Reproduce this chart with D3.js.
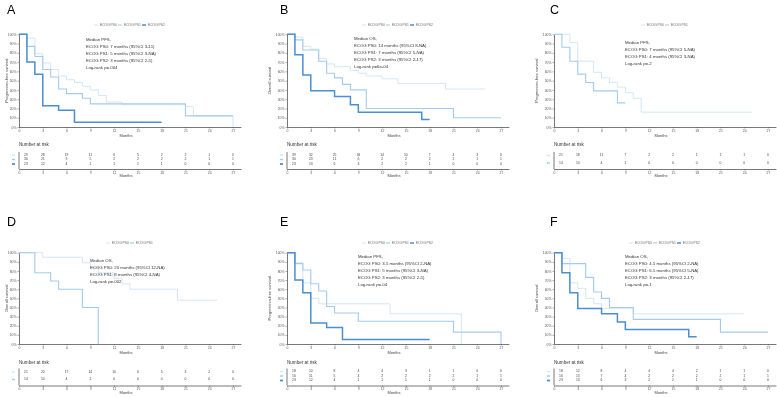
<!DOCTYPE html>
<html>
<head>
<meta charset="utf-8">
<script src="https://cdn.jsdelivr.net/npm/d3@7"></script>
<style>
  body { margin: 0; background: #fff; }
  svg { display: block; font-family: "Liberation Sans", Arial, Helvetica, sans-serif; will-change: transform; }
</style>
</head>
<body>
<svg id="chart" width="777" height="397"></svg>
<script>
var months = [0, 3, 6, 9, 12, 15, 18, 21, 24, 27];
var yTicks = [0, 10, 20, 30, 40, 50, 60, 70, 80, 90, 100];
var groups = ["ECOG PS0", "ECOG PS1", "ECOG PS2"];

// survival curves: [month, percent surviving]
var aPS0 = [[0,100],[1,96],[2,79],[3,69],[4,62],[5,55],[6,51],[7,48],[8,44],[9,40],[10,34],[11,27],[13,24],[21,22],[22,12],[27,0]];
var aPS1 = [[0,100],[1,87],[2,76],[3,62],[4,54],[5,41],[6,36],[8,31],[9,25],[21,12],[27,12]];
var aPS2 = [[0,100],[1,70],[2,57],[3,23],[5,18],[7,5],[18,5]];

var bPS0 = [[0,100],[1,97],[2,87],[3,84],[4,74],[5,68],[6,65],[8,61],[9,58],[10,55],[12,52],[14,47],[20,41],[25,41]];
var bPS1 = [[0,100],[1,94],[2,83],[4,71],[5,58],[6,53],[7,46],[8,40],[10,20],[21,10],[27,10]];
var bPS2 = [[0,100],[1,78],[2,56],[3,39],[6,33],[8,24],[9,16],[17,8],[18,8]];

var cPS0 = [[0,100],[2,91],[3,71],[5,59],[6,53],[7,48],[8,43],[9,37],[10,31],[11,16],[25,16]];
var cPS1 = [[0,100],[1,86],[2,71],[3,57],[4,48],[5,39],[8,26],[9,26]];

var dPS0 = [[0,100],[3,95],[8,89],[9,84],[10,78],[12,72],[13,66],[14,60],[20,48],[25,48]];
var dPS1 = [[0,100],[2,78],[4,69],[5,60],[8,40],[10,0]];

var ePS0 = [[0,100],[1,89],[2,67],[3,50],[4,44],[13,33],[22,0]];
var ePS1 = [[0,100],[1,88],[2,81],[3,66],[4,58],[5,41],[6,34],[9,25],[21,13],[27,0]];
var ePS2 = [[0,100],[1,70],[2,56],[3,23],[5,18],[7,5],[18,5]];

var fPS0 = [[0,100],[1,94],[2,67],[3,61],[4,50],[5,44],[6,39],[10,33],[24,33]];
var fPS1 = [[0,100],[1,88],[4,73],[5,57],[6,50],[7,40],[10,27],[21,13],[27,13]];
var fPS2 = [[0,100],[1,78],[2,56],[3,39],[6,33],[8,24],[9,16],[17,8],[18,8]];

// number at risk
var riskA = [[29,28,19,11,6,5,2,2,1,0],[30,21,9,5,2,2,2,2,1,1],[23,12,4,1,1,1,1,0,0,0]];
var riskB = [[39,32,25,18,14,10,7,4,3,0],[30,23,11,6,2,2,2,2,1,1],[23,13,6,3,2,2,1,0,0,0]];
var riskC = [[21,18,11,7,2,2,1,1,1,0],[14,10,4,1,0,0,0,0,0,0]];
var riskD = [[21,20,17,14,10,6,5,3,2,0],[14,10,4,2,0,0,0,0,0,0]];
var riskE = [[18,10,8,4,4,3,1,1,0,0],[16,11,5,4,2,2,2,2,1,1],[23,12,4,1,1,1,1,0,0,0]];
var riskF = [[18,12,8,4,4,4,2,1,1,0],[16,13,7,4,2,2,2,2,1,1],[23,13,6,3,2,2,1,0,0,0]];

var notesA = ["Median PFS,", "ECOG PS0: 7 months (95%CI 3-11)", "ECOG PS1: 5 months (95%CI 3-NA)", "ECOG PS2: 3 months (95%CI 2-5)", "Log-rank p=.004"];
var notesB = ["Median OS,", "ECOG PS0: 14 months (95%CI 8-NA)", "ECOG PS1: 7 months (95%CI 5-NA)", "ECOG PS2: 3 months (95%CI 2-17)", "Log-rank p=6e-04"];
var notesC = ["Median PFS,", "ECOG PS0: 7 months (95%CI 5-NA)", "ECOG PS1: 4 months (95%CI 3-NA)", "Log-rank p=.2"];
var notesD = ["Median OS,", "ECOG PS0: 20 months (95%CI 12-NA)", "ECOG PS1: 8 months (95%CI 4-NA)", "Log-rank p=.002"];
var notesE = ["Median PFS,", "ECOG PS0: 3.5 months (95%CI 2-NA)", "ECOG PS1: 5 months (95%CI 3-NA)", "ECOG PS2: 3 months (95%CI 2-5)", "Log-rank p=.04"];
var notesF = ["Median OS,", "ECOG PS0: 4.5 months (95%CI 2-NA)", "ECOG PS1: 6.5 months (95%CI 5-NA)", "ECOG PS2: 3 months (95%CI 2-17)", "Log-rank p=.1"];

var colors = ["#d3e6f6", "#a3cbee", "#4a8fd4"];
var widths = [1, 1.1, 1.5];

var cols = [
  {ax: 19, letterX: 7, ytitleX: 7},
  {ax: 287, letterX: 280, ytitleX: 270},
  {ax: 554, letterX: 550, ytitleX: 537}
];
var rows = [
  {top: 34.3, bot: 127, letterY: 13.5, legY: 25, riskAxis: 169, narY: 145},
  {top: 252.7, bot: 344, letterY: 225.5, legY: 243, riskAxis: 385.5, narY: 362.3}
];

var panels = [
  {letter: "A", col: 0, row: 0, curves: [aPS0, aPS1, aPS2], risk: riskA, notes: notesA, ylab: "Progression-free survival", nx: 67, ny: 40},
  {letter: "B", col: 1, row: 0, curves: [bPS0, bPS1, bPS2], risk: riskB, notes: notesB, ylab: "Overall survival", nx: 67, ny: 39.3},
  {letter: "C", col: 2, row: 0, curves: [cPS0, cPS1], risk: riskC, notes: notesC, ylab: "Progression-free survival", nx: 71, ny: 43},
  {letter: "D", col: 0, row: 1, curves: [dPS0, dPS1], risk: riskD, notes: notesD, ylab: "Overall survival", nx: 71, ny: 260.7},
  {letter: "E", col: 1, row: 1, curves: [ePS0, ePS1, ePS2], risk: riskE, notes: notesE, ylab: "Progression-free survival", nx: 71, ny: 257},
  {letter: "F", col: 2, row: 1, curves: [fPS0, fPS1, fPS2], risk: riskF, notes: notesF, ylab: "Overall survival", nx: 71, ny: 257}
];

var svg = d3.select("#chart");
var axisColor = "#555";

function styleAxis(s) {
  s.select(".domain").attr("stroke", axisColor).attr("stroke-width", 0.8);
  s.selectAll(".tick line").attr("stroke", axisColor).attr("stroke-width", 0.5);
  s.selectAll(".tick text").style("font-size", "3.4px").style("fill", "#555");
}

panels.forEach(function(p) {
  var c = cols[p.col], r = rows[p.row];
  var x = d3.scaleLinear().domain([0, 28]).range([c.ax, c.ax + 214 * 28 / 27]);
  var y = d3.scaleLinear().domain([0, 100]).range([r.bot, r.top]);
  var g = svg.append("g");

  // panel letter
  g.append("text")
    .attr("x", c.letterX)
    .attr("y", r.letterY)
    .style("font-size", "12.5px")
    .style("fill", "#000")
    .text(p.letter);

  // legend
  var n = p.curves.length;
  var lx = c.ax + 111 - n * 12;
  groups.slice(0, n).forEach(function(name, i) {
    var ix = lx + i * 24;
    g.append("line")
      .attr("x1", ix).attr("x2", ix + 4)
      .attr("y1", r.legY).attr("y2", r.legY)
      .attr("stroke", colors[i]).attr("stroke-width", widths[i]);
    g.append("text")
      .attr("x", ix + 6).attr("y", r.legY)
      .attr("dominant-baseline", "middle")
      .style("font-size", "3.3px").style("fill", "#666")
      .text(name);
  });

  // axes
  g.append("g")
    .attr("transform", "translate(0," + r.bot + ")")
    .call(d3.axisBottom(x).tickValues(months).tickSize(1.5).tickSizeOuter(0).tickPadding(1.5))
    .call(styleAxis);
  g.append("g")
    .attr("transform", "translate(" + c.ax + ",0)")
    .call(d3.axisLeft(y).tickValues(yTicks).tickFormat(function(d) { return d + "%"; })
      .tickSize(1.5).tickSizeOuter(0).tickPadding(1))
    .call(styleAxis);

  g.append("text")
    .attr("x", (x(0) + x(27)) / 2).attr("y", r.bot + 9.5)
    .attr("text-anchor", "middle")
    .style("font-size", "4px").style("fill", "#444")
    .text("Months");

  g.append("text")
    .attr("transform", "translate(" + c.ytitleX + "," + (r.top + r.bot) / 2 + ") rotate(-90)")
    .attr("text-anchor", "middle")
    .attr("dominant-baseline", "middle")
    .style("font-size", "4px").style("fill", "#444")
    .text(p.ylab);

  // survival curves
  var line = d3.line()
    .x(function(d) { return x(d[0]); })
    .y(function(d) { return y(d[1]); })
    .curve(d3.curveStepAfter);
  p.curves.forEach(function(cv, i) {
    g.append("path")
      .datum(cv)
      .attr("d", line)
      .attr("fill", "none")
      .attr("stroke", colors[i])
      .attr("stroke-width", widths[i]);
  });

  // annotation
  p.notes.forEach(function(t, i) {
    g.append("text")
      .attr("x", c.ax + p.nx).attr("y", p.ny + i * 7)
      .attr("dominant-baseline", "middle")
      .style("font-size", "4.3px").style("fill", "#333")
      .text(t);
  });

  // number at risk table
  g.append("text")
    .attr("x", c.ax).attr("y", r.narY)
    .attr("dominant-baseline", "middle")
    .style("font-size", "4.6px").style("fill", "#333")
    .text("Number at risk");

  var rowY = n == 3 ? [-14, -9.5, -5] : [-13.5, -6];
  g.append("line")
    .attr("x1", c.ax).attr("x2", c.ax)
    .attr("y1", r.riskAxis - 17).attr("y2", r.riskAxis)
    .attr("stroke", axisColor).attr("stroke-width", 0.8);

  p.risk.forEach(function(vals, i) {
    var ry = r.riskAxis + rowY[i];
    g.append("line")
      .attr("x1", c.ax - 7).attr("x2", c.ax - 4)
      .attr("y1", ry).attr("y2", ry)
      .attr("stroke", colors[i]).attr("stroke-width", widths[i] + 0.3);
    g.selectAll(null)
      .data(vals)
      .enter().append("text")
        .attr("x", function(d, j) { return j == 0 ? x(months[j]) + 7 : x(months[j]); })
        .attr("y", ry)
        .attr("text-anchor", "middle")
        .attr("dominant-baseline", "middle")
        .style("font-size", "3.4px").style("fill", "#444")
        .text(function(d) { return d; });
  });

  g.append("g")
    .attr("transform", "translate(0," + r.riskAxis + ")")
    .call(d3.axisBottom(x).tickValues(months).tickSize(1.5).tickSizeOuter(0).tickPadding(1))
    .call(styleAxis);
  g.append("text")
    .attr("x", (x(0) + x(27)) / 2).attr("y", r.riskAxis + 8)
    .attr("text-anchor", "middle")
    .style("font-size", "4px").style("fill", "#444")
    .text("Months");
});
</script>
</body>
</html>
